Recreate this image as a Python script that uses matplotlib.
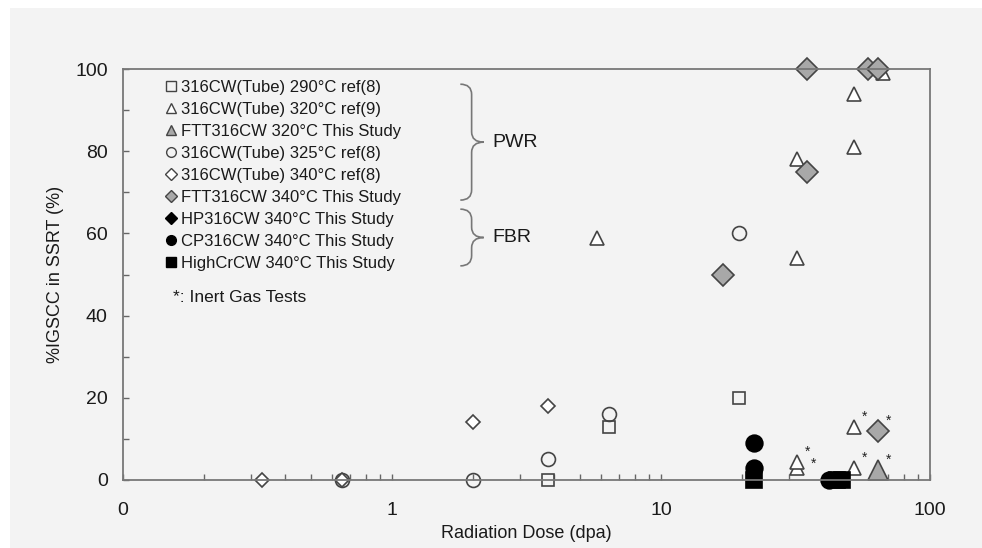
import numpy as np
import matplotlib.pyplot as plt
from matplotlib.path import Path
from matplotlib.patches import PathPatch, Rectangle

plt.rcParams['font.family'] = ['Liberation Sans', 'DejaVu Sans']

# data: dose (dpa), %IGSCC
sq290_x = [3.8, 6.4, 19.5]
sq290_y = [0, 13, 20]

tri320_x = [5.8, 32, 32, 52, 52, 67, 32, 32, 52, 52]
tri320_y = [59, 78, 54, 94, 81, 99, 3, 4.5, 13, 3]
tri320_inert = [False, False, False, False, False, False, True, True, True, True]

ftt320_x = [64]
ftt320_y = [2.5]
ftt320_inert = [True]

circ325_x = [0.65, 2.0, 3.8, 6.4, 19.5]
circ325_y = [0, 0, 5, 16, 60]

dia340_x = [0.33, 0.65, 2.0, 3.8]
dia340_y = [0, 0, 14, 18]

ftt340_x = [17, 35, 35, 59, 64, 64]
ftt340_y = [50, 100, 75, 100, 100, 12]
ftt340_inert = [False, False, False, False, False, True]

hp340_x = []
hp340_y = []

cp340_x = [22.2, 22.2, 42]
cp340_y = [9, 3, 0]

hicr_x = [22.2, 45, 47]
hicr_y = [0, 0, 0]

xticks = [0.1, 1, 10, 100]
xticklabels = ['0', '1', '10', '100']

fig = plt.figure(figsize=(9.82, 5.48), dpi=100, facecolor='white')
fig.patches.append(Rectangle((10 / 982, 0), 1, 1 - 8 / 548, transform=fig.transFigure,
                             facecolor='#f3f3f3', edgecolor='none', zorder=-10))
ax = fig.add_axes([123 / 982, 1 - 480 / 548, 807 / 982, 411 / 548])
ax.set_facecolor('#f3f3f3')

ec = '#444444'
gray = '#a8a8a8'
common = dict(linestyle='none', clip_on=False, markeredgewidth=1.2)

h1, = ax.plot(sq290_x, sq290_y, 's', ms=8.5, mfc='none', mec=ec, **common,
              label='316CW(Tube) 290°C ref(8)')
h2, = ax.plot(tri320_x, tri320_y, '^', ms=10, mfc='white', mec=ec, **common,
              label='316CW(Tube) 320°C ref(9)')
h3, = ax.plot(ftt320_x, ftt320_y, '^', ms=15, mfc=gray, mec=ec, **common,
              label='FTT316CW 320°C This Study')
h4, = ax.plot(circ325_x, circ325_y, 'o', ms=10, mfc='none', mec=ec, **common,
              label='316CW(Tube) 325°C ref(8)')
h5, = ax.plot(dia340_x, dia340_y, 'D', ms=7.5, mfc='white', mec=ec, **common,
              label='316CW(Tube) 340°C ref(8)')
h6, = ax.plot(ftt340_x, ftt340_y, 'D', ms=11, mfc=gray, mec=ec, **common,
              label='FTT316CW 340°C This Study')
h7, = ax.plot(hp340_x, hp340_y, 'D', ms=10, mfc='black', mec='black', **common,
              label='HP316CW 340°C This Study')
h8, = ax.plot(cp340_x, cp340_y, 'o', ms=12, mfc='black', mec='black', **common,
              label='CP316CW 340°C This Study')
h9, = ax.plot(hicr_x, hicr_y, 's', ms=11, mfc='black', mec='black', **common,
              label='HighCrCW 340°C This Study')

# inert gas test markers (stars); nudge stars of stacked points so they don't collide
for xs, ys, flags in [(tri320_x, tri320_y, tri320_inert),
                      (ftt320_x, ftt320_y, ftt320_inert),
                      (ftt340_x, ftt340_y, ftt340_inert)]:
    pts = [(x, y) for x, y, f in zip(xs, ys, flags) if f]
    for x, y in pts:
        k = sum(1 for x2, y2 in pts if x2 == x and y < y2 < y + 5)
        ax.annotate('*', (x, y), xytext=(6 + 4 * k, 4 - 4 * k),
                    textcoords='offset points', fontsize=10, color='#222222')

ax.set_xscale('log')
ax.set_xlim(0.1, 100)
ax.set_ylim(0, 100)
ax.set_xticks(xticks)
ax.set_xticklabels(xticklabels)
ax.set_yticks(np.arange(0, 101, 20))
ax.set_yticks(np.arange(10, 100, 20), minor=True)
ax.tick_params(axis='both', which='both', direction='in', length=4, width=1,
               color='#666666', labelsize=14, labelcolor='#1a1a1a')
ax.tick_params(axis='x', which='both', pad=16)
ax.tick_params(axis='y', which='both', pad=11)
ax.tick_params(axis='x', which='minor', labelbottom=False)
for s in ax.spines.values():
    s.set_color('#777777')
    s.set_linewidth(1.3)

ax.set_xlabel('Radiation Dose (dpa)', fontsize=13, labelpad=4, color='#1a1a1a')
ax.set_ylabel('%IGSCC in SSRT (%)', fontsize=13, labelpad=8, color='#1a1a1a')

leg = ax.legend(handles=[h1, h2, h3, h4, h5, h6, h7, h8, h9], loc='upper left',
                bbox_to_anchor=(0.045, 0.99), frameon=False, fontsize=12,
                handlelength=0.6, handletextpad=0.3, labelspacing=0.42,
                borderaxespad=0)
for t in leg.get_texts():
    t.set_color('#1a1a1a')
for hd in leg.legend_handles:
    hd.set_markersize(6 if hd.get_marker() == 'D' else 7)
    hd.set_markeredgewidth(1.0)


def brace(x0, x1, x2, top, bot, r=0.025):
    mid = (top + bot) / 2
    verts = [(x0, top), (x1, top), (x1, top - r),
             (x1, mid + r), (x1, mid), (x2, mid),
             (x1, mid), (x1, mid - r),
             (x1, bot + r), (x1, bot), (x0, bot)]
    codes = [Path.MOVETO, Path.CURVE3, Path.CURVE3,
             Path.LINETO, Path.CURVE3, Path.CURVE3,
             Path.CURVE3, Path.CURVE3,
             Path.LINETO, Path.CURVE3, Path.CURVE3]
    ax.add_patch(PathPatch(Path(verts, codes), transform=ax.transAxes,
                           facecolor='none', edgecolor='#777777', lw=1.2))


brace(0.418, 0.432, 0.447, 0.963, 0.681)
brace(0.418, 0.432, 0.447, 0.659, 0.521)
ax.text(0.458, 0.822, 'PWR', transform=ax.transAxes, fontsize=14, va='center', color='#1a1a1a')
ax.text(0.458, 0.59, 'FBR', transform=ax.transAxes, fontsize=14, va='center', color='#1a1a1a')
ax.text(0.062, 0.445, '*: Inert Gas Tests', transform=ax.transAxes, fontsize=12.5,
        va='center', color='#1a1a1a')

fig.savefig('out.png', dpi=100, facecolor=fig.get_facecolor())
